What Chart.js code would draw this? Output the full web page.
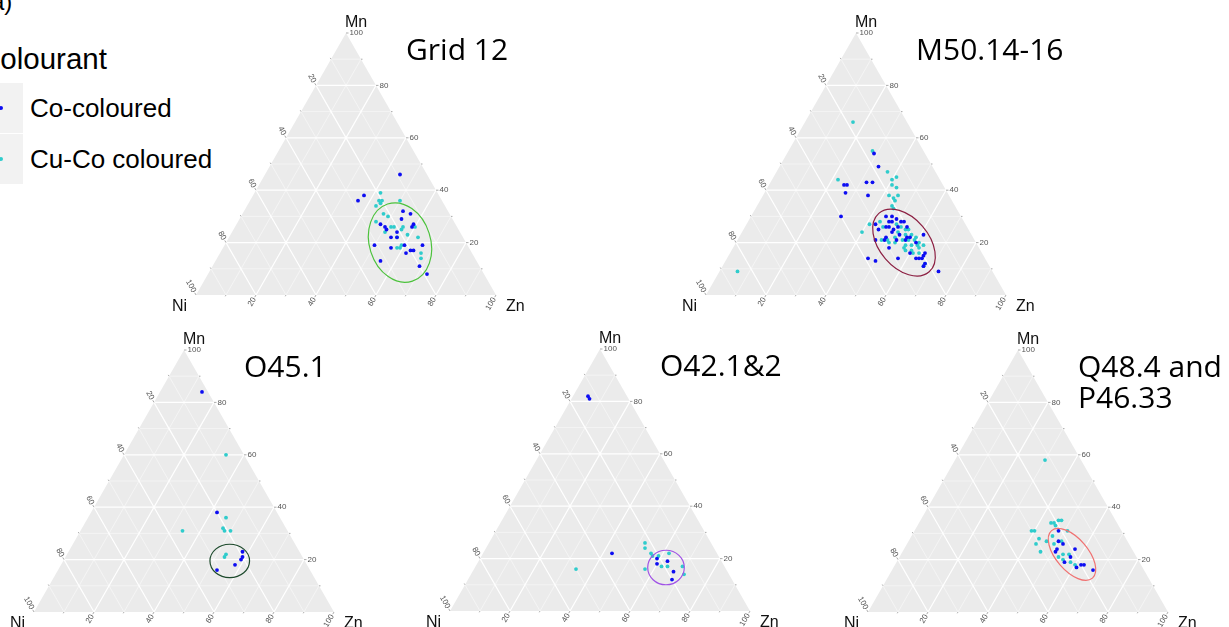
<!DOCTYPE html>
<html>
<head>
    <meta charset="UTF-8">
    <title>Ternary plots Mn-Ni-Zn</title>
    <script src="https://cdn.jsdelivr.net/npm/chart.js"></script>
    <style>
        body { margin: 0; width: 1229px; height: 627px; overflow: hidden; background: #fff; position: relative; font-family: "Liberation Sans", Arial, sans-serif; }
        .panel { position: absolute; left: 0; top: 0; width: 1229px; height: 627px; }
        .lg { position: absolute; white-space: nowrap; line-height: 1; color: #000; }
        .key { position: absolute; left: -22px; width: 45px; height: 50px; background: #f2f2f2; }
        .dot { position: absolute; width: 4px; height: 4px; border-radius: 50%; }
    </style>
</head>
<body>
    <!-- legend (cut at the left edge, as in the source figure) -->
    <span class="lg" style="left:-17px; top:-10px; font-size:24px">(a)</span>
    <span class="lg" style="left:-21px; top:44px; font-size:29.5px">Colourant</span>
    <div class="key" style="top:83px"></div>
    <div class="key" style="top:134px"></div>
    <div class="dot" id="dot-co" style="left:-1px; top:106px"></div>
    <div class="dot" id="dot-cuco" style="left:-1px; top:157px"></div>
    <span class="lg" id="lab-co" style="left:30px; top:95px; font-size:26px"></span>
    <span class="lg" id="lab-cuco" style="left:30px; top:146px; font-size:26px"></span>

    <script>
        // compositions are [Mn, Ni, Zn] in %
        const seriesNames = ['Co-coloured', 'Cu-Co coloured'];
        const axisNames = ['Mn', 'Ni', 'Zn'];
        const tickValues = [20, 40, 60, 80, 100];
        const panelTitles = [['Grid 12'], ['M50.14-16'], ['O45.1'], ['O42.1&2'], ['Q48.4 and', 'P46.33']];

        const grid12Co = [[46,9,45],[38,25,37],[36,28,36],[32,15,53],[31,13,56],[29,17,54],[27,25,48],[27,14,59],
            [26,15,59],[26,24,50],[25,24,51],[24,21,55],[22,24,54],[22,22,56],[19,31,50],[18,26,56],[19,21,60],
            [17,20,63],[17,19,64],[19,15,66],[16,22,62],[13,32,55],[11,20,69],[8,19,73]];
        const grid12CuCo = [[39,19,42],[36,21,43],[36,20,44],[35,21,44],[34,23,43],[36,14,50],[31,22,47],[30,21,49],
            [28,26,46],[26,21,53],[26,22,52],[26,18,56],[26,14,60],[24,25,51],[25,19,56],[23,18,59],[22,15,63],
            [22,22,56],[18,23,59],[19,22,59],[18,24,58],[16,17,67],[14,18,68]];

        const m50Co = [[54,17,29],[49,18,33],[42,32,26],[42,33,25],[43,25,32],[43,23,34],[39,34,27],[38,27,35],
            [30,40,30],[30,25,45],[30,23,47],[29,22,49],[28,25,47],[28,24,48],[28,21,51],[28,20,52],[27,30,43],
            [26,27,47],[26,26,48],[25,25,50],[26,23,51],[26,20,54],[25,30,45],[24,26,50],[23,24,53],[22,22,56],
            [22,21,57],[22,29,49],[21,30,49],[21,26,53],[21,23,56],[21,33,46],[18,30,52],[23,16,61],[20,20,60],
            [16,24,60],[16,19,65],[15,20,65],[14,23,63],[14,22,64],[14,21,65],[14,29,57],[14,39,47],[13,37,50],
            [12,21,67],[11,22,67],[9,18,73]];
        const m50CuCo = [[66,18,16],[55,17,28],[47,16,37],[45,14,41],[44,16,40],[42,17,41],[41,16,43],[44,34,22],
            [38,20,42],[38,17,45],[37,19,44],[36,19,45],[34,21,45],[33,21,46],[27,32,41],[28,28,44],[24,36,40],
            [27,23,50],[26,22,52],[25,21,54],[25,20,55],[24,24,52],[23,22,55],[23,20,57],[22,26,52],[21,24,55],
            [21,22,57],[21,20,59],[22,19,59],[20,29,51],[20,27,53],[19,24,57],[19,22,59],[19,20,61],[20,19,61],
            [18,25,57],[17,23,60],[18,20,62],[17,25,58],[16,23,61],[16,21,63],[19,18,63],[12,21,67],[11,22,67],
            [26,28,46],[21,31,48],[21,29,50],[9,85,6]];

        const o45Co = [[84,2,14],[38,20,42],[23,19,58],[21,20,59],[20,21,59],[18,24,58],[16,31,53]];
        const o45CuCo = [[60,6,34],[36,18,46],[32,21,47],[31,21,48],[31,19,50],[31,35,34],[22,25,53],[21,26,53]];

        const o42Co = [[82,13,5],[81,13,6],[22,35,43],[20,21,59],[19,18,63],[18,22,60],[15,18,67],[12,20,68]];
        const o42CuCo = [[16,50,34],[26,22,52],[24,23,53],[22,22,56],[21,22,57],[21,20,59],[22,16,62],[17,21,62],
            [17,19,64],[16,27,57],[17,14,69],[14,15,71]];

        const q48Co = [[31,21,48],[27,23,50],[26,22,52],[24,25,51],[23,26,51],[24,19,57],[21,22,57],[19,25,56],
            [18,20,62],[17,22,61],[18,19,63],[16,17,67]];
        const q48CuCo = [[58,12,30],[31,29,40],[31,30,39],[34,22,44],[34,21,45],[35,19,46],[35,18,47],[33,21,46],
            [31,18,51],[28,29,43],[26,31,43],[27,27,46],[29,24,47],[23,31,46],[26,25,49],[27,22,51],[21,26,53],
            [22,24,54],[22,22,56],[20,25,55],[19,23,58],[18,22,60]];

        // confidence ellipses: centre composition, semi-axes (major, minor) in % units, tilt of major axis from vertical
        const ellipseCentres = [[20,22,58],[20,24,56],[19.5,25,55.5],[16.6,19.7,63.7],[22,21,57]];
        const ellipseAxes = [[13.4,10.2],[12.8,8.2],[6.6,5.5],[6.1,5.7],[10.4,5.3]];
        const ellipseTilts = [-18, -41, 90, 90, -41];

        const coColour = '#0d0df2';
        const cucoColour = '#2fcccc';
        const ellipseColours = ['#4cc23c', '#8c1f42', '#1d4a2c', '#a052e6', '#f07272'];

        // where each triangle sits on the page (Ni corner x, base y)
        const SIDE = 300, TRI_H = 262;
        const panelPos = [[196, 295], [706, 295], [34, 612], [450, 611], [868, 612]];

        const H = Math.sqrt(3) / 2;
        function toXY(p) {
            const s = p[0] + p[1] + p[2];
            const mn = 100 * p[0] / s, zn = 100 * p[2] / s;
            return { x: zn + mn / 2, y: mn * H };
        }
        function pix(chart, p) {
            const q = toXY(p);
            return [chart.scales.x.getPixelForValue(q.x), chart.scales.y.getPixelForValue(q.y)];
        }
        function seg(ctx, a, b) {
            ctx.moveTo(a[0], a[1]);
            ctx.lineTo(b[0], b[1]);
        }

        const ternaryPlugin = {
            id: 'ternary',
            beforeDatasetsDraw(chart) {
                const ctx = chart.ctx;
                const A = pix(chart, [100, 0, 0]), B = pix(chart, [0, 100, 0]), C = pix(chart, [0, 0, 100]);
                ctx.save();
                ctx.fillStyle = '#ebebeb';
                ctx.beginPath();
                ctx.moveTo(A[0], A[1]); ctx.lineTo(B[0], B[1]); ctx.lineTo(C[0], C[1]);
                ctx.closePath();
                ctx.fill();
                // minor grid, then major grid
                [[10, 30, 50, 70, 90], [20, 40, 60, 80]].forEach((vals, major) => {
                    ctx.strokeStyle = major ? '#ffffff' : 'rgba(255,255,255,0.8)';
                    ctx.lineWidth = major ? 1.2 : 0.6;
                    ctx.beginPath();
                    vals.forEach(v => {
                        seg(ctx, pix(chart, [v, 100 - v, 0]), pix(chart, [v, 0, 100 - v]));
                        seg(ctx, pix(chart, [100 - v, v, 0]), pix(chart, [0, v, 100 - v]));
                        seg(ctx, pix(chart, [100 - v, 0, v]), pix(chart, [0, 100 - v, v]));
                    });
                    ctx.stroke();
                });
                ctx.restore();
            },
            afterDatasetsDraw(chart, args, opts) {
                const ctx = chart.ctx;
                ctx.save();
                // ellipse
                const c = pix(chart, opts.centre);
                const sx = (chart.scales.x.getPixelForValue(100) - chart.scales.x.getPixelForValue(0)) / 100;
                const sy = (chart.scales.y.getPixelForValue(0) - chart.scales.y.getPixelForValue(100 * H)) / (100 * H);
                ctx.save();
                ctx.translate(c[0], c[1]);
                ctx.scale(sx, sy);
                ctx.beginPath();
                ctx.ellipse(0, 0, opts.axes[1], opts.axes[0], opts.tilt * Math.PI / 180, 0, 2 * Math.PI);
                ctx.restore();
                ctx.strokeStyle = opts.colour;
                ctx.lineWidth = 1.2;
                ctx.stroke();

                // ticks and tick labels
                const dl = [-0.5, -H], db = [-0.5, H];
                ctx.strokeStyle = '#8a8a8a';
                ctx.lineWidth = 0.7;
                ctx.fillStyle = '#555';
                ctx.font = '8px "Liberation Sans", Arial, sans-serif';
                ctx.textBaseline = 'middle';
                [10, 20, 30, 40, 50, 60, 70, 80, 90, 100].forEach(v => {
                    const len = v % 20 ? 1.5 : 2.5;
                    const r = pix(chart, [v, 0, 100 - v]);
                    const l = pix(chart, [100 - v, v, 0]);
                    const b = pix(chart, [0, 100 - v, v]);
                    ctx.beginPath();
                    seg(ctx, r, [r[0] + len, r[1]]);
                    seg(ctx, l, [l[0] + dl[0] * len, l[1] + dl[1] * len]);
                    seg(ctx, b, [b[0] + db[0] * len, b[1] + db[1] * len]);
                    ctx.stroke();
                });
                tickValues.forEach(v => {
                    const r = pix(chart, [v, 0, 100 - v]);
                    ctx.textAlign = 'left';
                    ctx.fillText(String(v), r[0] + 3.5, r[1]);
                    const l = pix(chart, [100 - v, v, 0]);
                    ctx.save();
                    ctx.translate(l[0] + dl[0] * 3.5, l[1] + dl[1] * 3.5);
                    ctx.rotate(Math.PI / 3);
                    ctx.textAlign = 'right';
                    ctx.fillText(String(v), 0, 0);
                    ctx.restore();
                    const b = pix(chart, [0, 100 - v, v]);
                    ctx.save();
                    ctx.translate(b[0] + db[0] * 3.5, b[1] + db[1] * 3.5);
                    ctx.rotate(-Math.PI / 3);
                    ctx.textAlign = 'right';
                    ctx.fillText(String(v), 0, 0);
                    ctx.restore();
                });

                // vertex names
                const A = pix(chart, [100, 0, 0]), B = pix(chart, [0, 100, 0]), C = pix(chart, [0, 0, 100]);
                ctx.fillStyle = '#111';
                ctx.font = '16px "Liberation Sans", Arial, sans-serif';
                ctx.textBaseline = 'alphabetic';
                ctx.textAlign = 'left';
                ctx.fillText(axisNames[0], A[0] - 1, A[1] - 6);
                ctx.textAlign = 'right';
                ctx.fillText(axisNames[1], B[0] - 9, B[1] + 16);
                ctx.textAlign = 'left';
                ctx.fillText(axisNames[2], C[0] + 10, C[1] + 16);

                // panel title
                ctx.font = '30px "Open Sans", "Noto Sans", sans-serif';
                ctx.fillStyle = '#000';
                opts.title.forEach((t, k) => ctx.fillText(t, B[0] + 210, A[1] + 27 + k * 31));
                ctx.restore();
            }
        };

        const panelCo = [grid12Co, m50Co, o45Co, o42Co, q48Co];
        const panelCuCo = [grid12CuCo, m50CuCo, o45CuCo, o42CuCo, q48CuCo];

        panelPos.forEach((pos, i) => {
            const div = document.createElement('div');
            div.className = 'panel';
            const cv = document.createElement('canvas');
            div.appendChild(cv);
            document.body.appendChild(div);
            new Chart(cv, {
                type: 'scatter',
                data: {
                    datasets: [
                        { label: seriesNames[0], data: panelCo[i].map(toXY), backgroundColor: coColour,
                          pointRadius: 1.9, borderWidth: 0, clip: false },
                        { label: seriesNames[1], data: panelCuCo[i].map(toXY), backgroundColor: cucoColour,
                          pointRadius: 1.9, borderWidth: 0, clip: false }
                    ]
                },
                options: {
                    responsive: true,
                    maintainAspectRatio: false,
                    animation: false,
                    events: [],
                    layout: { padding: { left: pos[0], top: pos[1] - TRI_H, right: 1229 - pos[0] - SIDE, bottom: 627 - pos[1] } },
                    scales: {
                        x: { type: 'linear', min: 0, max: 100, display: false },
                        y: { type: 'linear', min: 0, max: 100 * H, display: false }
                    },
                    plugins: {
                        legend: { display: false },
                        tooltip: { enabled: false },
                        ternary: {
                            title: panelTitles[i],
                            centre: ellipseCentres[i],
                            axes: ellipseAxes[i],
                            tilt: ellipseTilts[i],
                            colour: ellipseColours[i]
                        }
                    }
                },
                plugins: [ternaryPlugin]
            });
        });

        // legend entries
        document.getElementById('dot-co').style.background = coColour;
        document.getElementById('dot-cuco').style.background = cucoColour;
        document.getElementById('lab-co').textContent = seriesNames[0];
        document.getElementById('lab-cuco').textContent = seriesNames[1];
    </script>
</body>
</html>
